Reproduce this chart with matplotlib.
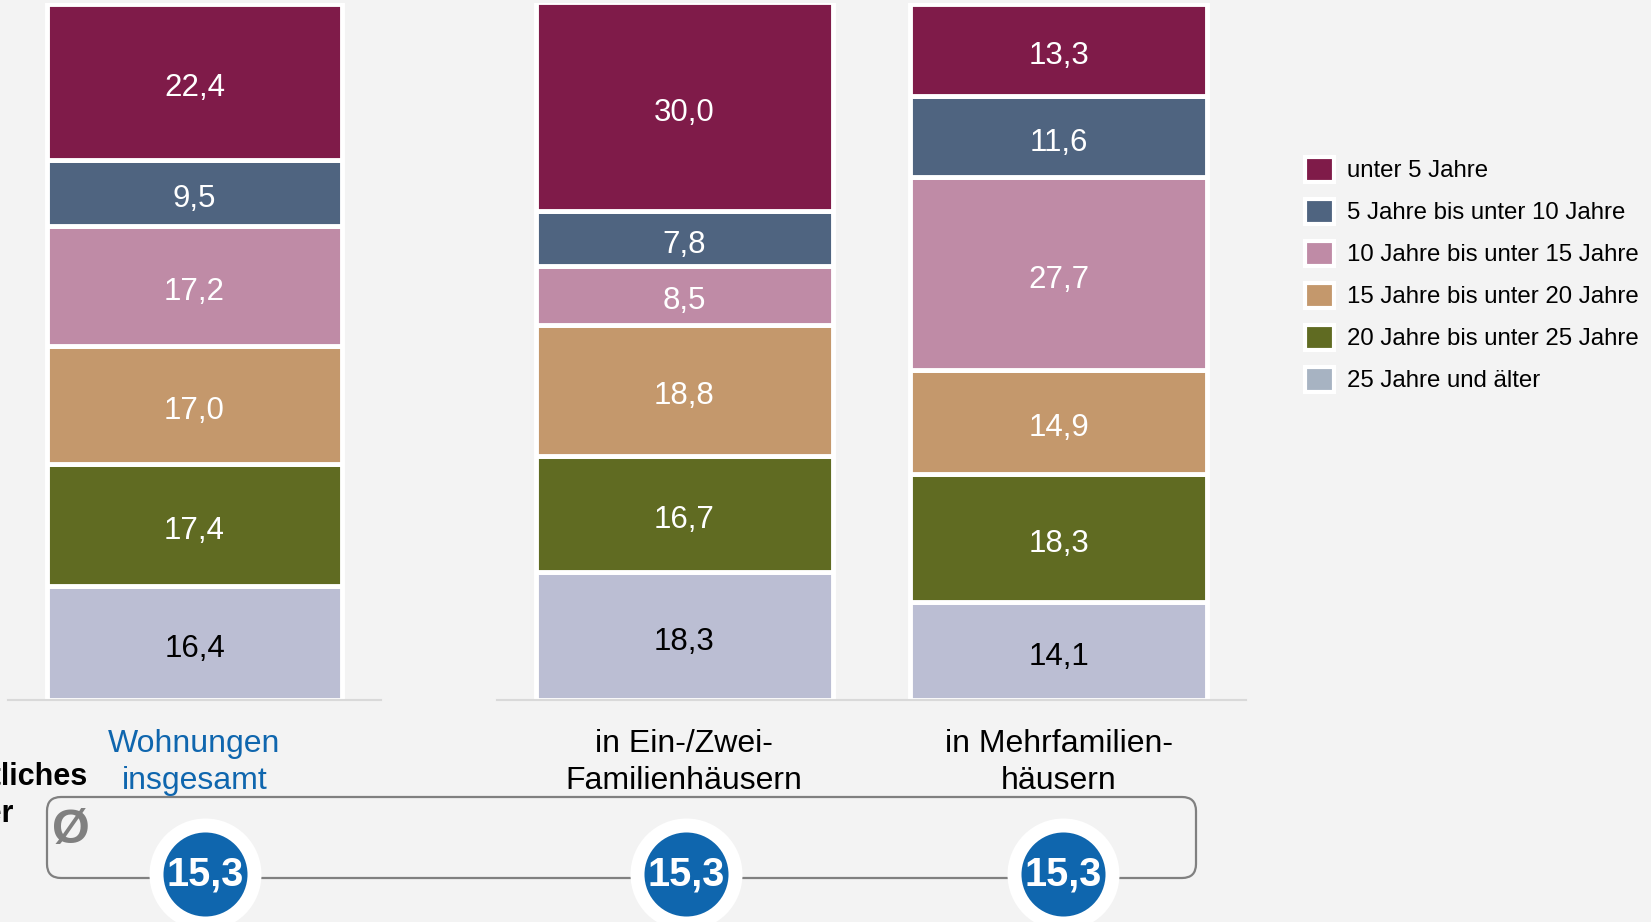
import matplotlib.pyplot as plt
import numpy as np
from matplotlib.patches import FancyBboxPatch, Patch

plt.rcParams["font.family"] = ["Liberation Sans", "DejaVu Sans"]

# ---- data ----
categories = ["Wohnungen\ninsgesamt", "in Ein-/Zwei-\nFamilienhäusern", "in Mehrfamilien-\nhäusern"]
age_groups = [
    "unter 5 Jahre",
    "5 Jahre bis unter 10 Jahre",
    "10 Jahre bis unter 15 Jahre",
    "15 Jahre bis unter 20 Jahre",
    "20 Jahre bis unter 25 Jahre",
    "25 Jahre und älter",
]
under_5 = [22.4, 30.0, 13.3]
from_5_to_10 = [9.5, 7.8, 11.6]
from_10_to_15 = [17.2, 8.5, 27.7]
from_15_to_20 = [17.0, 18.8, 14.9]
from_20_to_25 = [17.4, 16.7, 18.3]
over_25 = [16.4, 18.3, 14.1]
avg_age = [15.3, 15.3, 15.3]

shares = [under_5, from_5_to_10, from_10_to_15, from_15_to_20, from_20_to_25, over_25]
bar_colors = ["#7f1b49", "#4f6480", "#bf8ba6", "#c4986c", "#606b22", "#bbbed3"]
legend_colors = ["#7f1b49", "#4f6480", "#bf8ba6", "#c4986c", "#606b22", "#a7b3c2"]
text_colors = ["white", "white", "white", "white", "white", "black"]
badge_shift = [0.028, 0.005, 0.011]  # badges sit slightly right of the bar centres

BG = "#f3f3f3"
BLUE = "#0f66ae"
W, H = 1651, 922


def fmt(v):
    return f"{v:.1f}".replace(".", ",")


fig = plt.figure(figsize=(W / 100, H / 100), dpi=100, facecolor=BG)

# decoration layer in pixel units (box behind the circles)
deco = fig.add_axes([0, 0, 1, 1], zorder=0)
deco.set_xlim(0, W)
deco.set_ylim(H, 0)
deco.axis("off")
deco.add_patch(FancyBboxPatch((47, 797), 1149, 81, boxstyle="round,pad=0,rounding_size=14",
                              facecolor="none", edgecolor="#808080", lw=1.6))
deco.text(71, 830, "Ø", fontsize=35, fontweight="bold", color="#808080", ha="center", va="center")
deco.text(87, 785, "Durchschnittliches", fontsize=22, fontweight="bold", ha="right", va="baseline")
deco.text(14, 822, "Alter", fontsize=22, fontweight="bold", ha="right", va="baseline")

y0 = 1 - 700 / H
hgt = 697 / H
ax_left = fig.add_axes([8 / W, y0, 373 / W, hgt], zorder=1)
ax_right = fig.add_axes([497 / W, y0, 749 / W, hgt], zorder=1)

groups = [(ax_left, [0]), (ax_right, [1, 2])]
for ax, idx in groups:
    ax.set_facecolor("none")
    x = np.arange(len(idx))
    bottom = np.zeros(len(idx))
    # stack from oldest (bottom) to newest (top)
    for k in range(len(shares) - 1, -1, -1):
        vals = np.array([shares[k][i] for i in idx])
        ax.bar(x, vals, bottom=bottom, width=0.793, color=bar_colors[k],
               edgecolor="white", linewidth=3.5)
        for xi, v, b in zip(x, vals, bottom):
            ax.text(xi, b + v / 2 - 0.85, fmt(v), ha="center", va="center",
                    fontsize=22.5, color=text_colors[k])
        bottom += vals
    # average age badges
    bx = x + np.array([badge_shift[i] for i in idx])
    avgs = [avg_age[i] for i in idx]
    ax.scatter(bx, [-25.0] * len(x), s=6500, color="white", clip_on=False, zorder=5, linewidths=0)
    ax.scatter(bx, [-25.0] * len(x), s=3660, color=BLUE, clip_on=False, zorder=6, linewidths=0)
    for xi, a in zip(bx, avgs):
        ax.text(xi, -25.0, fmt(a), ha="center", va="center", fontsize=28.5,
                fontweight="bold", color="white", zorder=7, clip_on=False)

    ax.set_xlim(-0.5, len(idx) - 0.5)
    ax.set_ylim(0, 100)
    ax.set_xticks(x)
    ax.set_xticklabels([categories[i] for i in idx], fontsize=23, linespacing=1.28)
    ax.tick_params(axis="x", length=0, pad=21)
    ax.set_yticks([])
    for s in ["top", "left", "right"]:
        ax.spines[s].set_visible(False)
    ax.spines["bottom"].set_color("#d9d9d9")
    ax.spines["bottom"].set_linewidth(1.5)

ax_left.get_xticklabels()[0].set_color(BLUE)

handles = [Patch(facecolor=c, edgecolor="white", linewidth=3) for c in legend_colors]
fig.legend(handles, age_groups, loc="upper left", bbox_to_anchor=(1305 / W, 1 - 157 / H),
           frameon=False, fontsize=17.3, handlelength=1.2, handleheight=1.2,
           handletextpad=0.55, labelspacing=0.69, borderpad=0, borderaxespad=0)

fig.savefig("out.png", dpi=100, facecolor=BG)
